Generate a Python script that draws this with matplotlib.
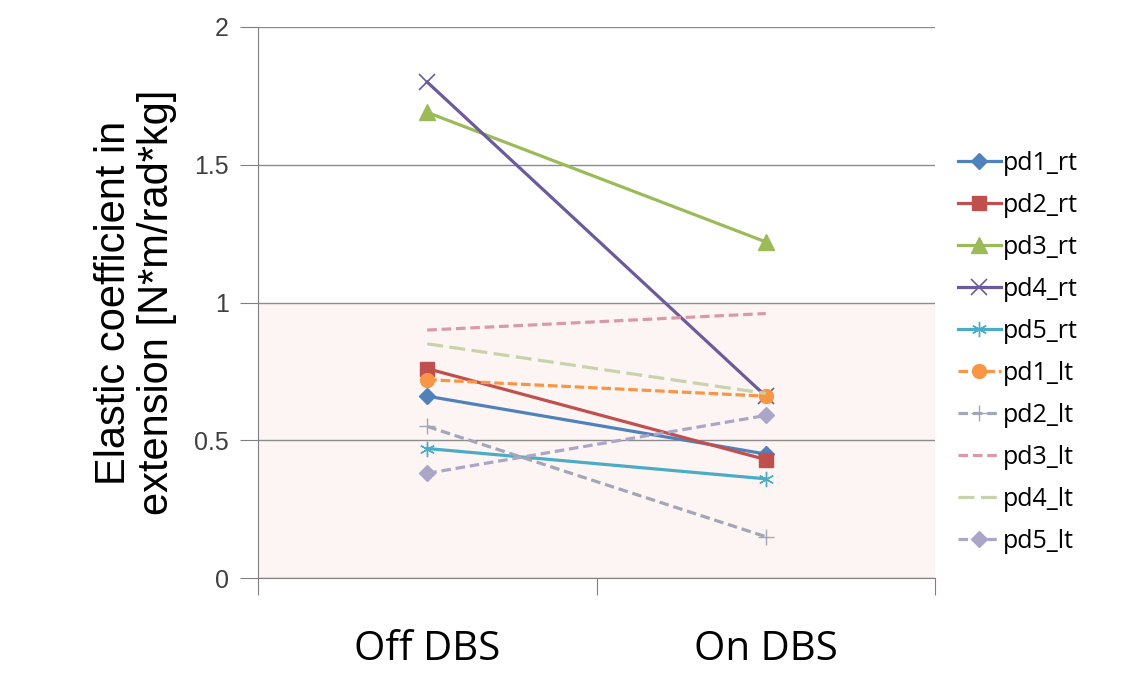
import matplotlib

matplotlib.use('agg')

import matplotlib.pyplot as plt

# categories and series values
conditions = ["Off DBS", "On DBS"]
series_names = ["pd1_rt", "pd2_rt", "pd3_rt", "pd4_rt", "pd5_rt",
                "pd1_lt", "pd2_lt", "pd3_lt", "pd4_lt", "pd5_lt"]
pd1_rt = [0.66, 0.45]
pd2_rt = [0.76, 0.43]
pd3_rt = [1.69, 1.22]
pd4_rt = [1.80, 0.66]
pd5_rt = [0.47, 0.36]
pd1_lt = [0.72, 0.66]
pd2_lt = [0.55, 0.15]
pd3_lt = [0.90, 0.96]
pd4_lt = [0.85, 0.67]
pd5_lt = [0.38, 0.59]
y_ticks = [0, 0.5, 1, 1.5, 2]
y_tick_labels = ["0", "0.5", "1", "1.5", "2"]

values = [pd1_rt, pd2_rt, pd3_rt, pd4_rt, pd5_rt,
          pd1_lt, pd2_lt, pd3_lt, pd4_lt, pd5_lt]

styles = [
    dict(color="#4F81BD", marker="D", ms=8, ls="-"),
    dict(color="#C0504D", marker="s", ms=10, ls="-"),
    dict(color="#9BBB59", marker="^", ms=11, ls="-"),
    dict(color="#6B5B9A", marker="x", ms=11, mew=1.2, ls="-"),
    dict(color="#4BACC6", marker=(6, 2, 0), ms=11, mew=1.0, ls="-"),
    dict(color="#F79646", marker="o", ms=10, ls=(0, (3, 1.2))),
    dict(color="#A2A6B6", marker="+", ms=12, mew=1.0, ls=(0, (3, 1.5))),
    dict(color="#D99AA8", marker=None, ls=(0, (3, 1.5))),
    dict(color="#C8D2AC", marker=None, ls=(0, (5, 2))),
    dict(color="#ABA6C8", marker="D", ms=8, ls=(0, (3, 1.5))),
]

fig = plt.figure(figsize=(11.4, 6.75), dpi=100)
ax = fig.add_axes([0.2263, 0.1437, 0.5939, 0.8163])

x = [0.5, 1.5]
ax.axhspan(0, 1, color="#FDF5F3", zorder=0)
for name, vals, st in zip(series_names, values, styles):
    st = dict(st)
    ls = st.pop("ls")
    ax.plot(x, vals, linestyle=ls, lw=2.3, label=name, zorder=3, **st)

ax.set_xlim(0, 2)
ax.set_ylim(0, 2)
ax.set_yticks(y_ticks)
ax.set_yticklabels(y_tick_labels, fontsize=18, color="#404040",
                   family="Liberation Sans")
ax.set_xticks([0, 1, 2])
ax.set_xticklabels([])
ax.set_xticks(x, minor=True)
ax.set_xticklabels(conditions, minor=True, fontsize=29, family="Open Sans")
ax.tick_params(axis="x", which="minor", length=0, pad=37)
ax.tick_params(axis="x", which="major", length=12, color="#808080", direction="out")
ax.tick_params(axis="y", length=13, color="#808080", direction="out", pad=8)
ax.grid(axis="y", color="#8C8C8C", lw=1)
ax.set_axisbelow(True)
for s in ["top", "right"]:
    ax.spines[s].set_visible(False)
ax.spines["left"].set_color("#808080")
ax.spines["bottom"].set_color("#808080")

ax.set_ylabel("Elastic coefficient in\nextension [N*m/rad*kg]", fontsize=30,
              family="Liberation Sans", labelpad=12, linespacing=1.1)

ax.legend(loc="center left", bbox_to_anchor=(1.0, 0.41), frameon=False,
          prop=dict(family="Open Sans", size=18), handlelength=1.75,
          handletextpad=0.05, labelspacing=0.68)

fig.savefig("out.png", dpi=100)
